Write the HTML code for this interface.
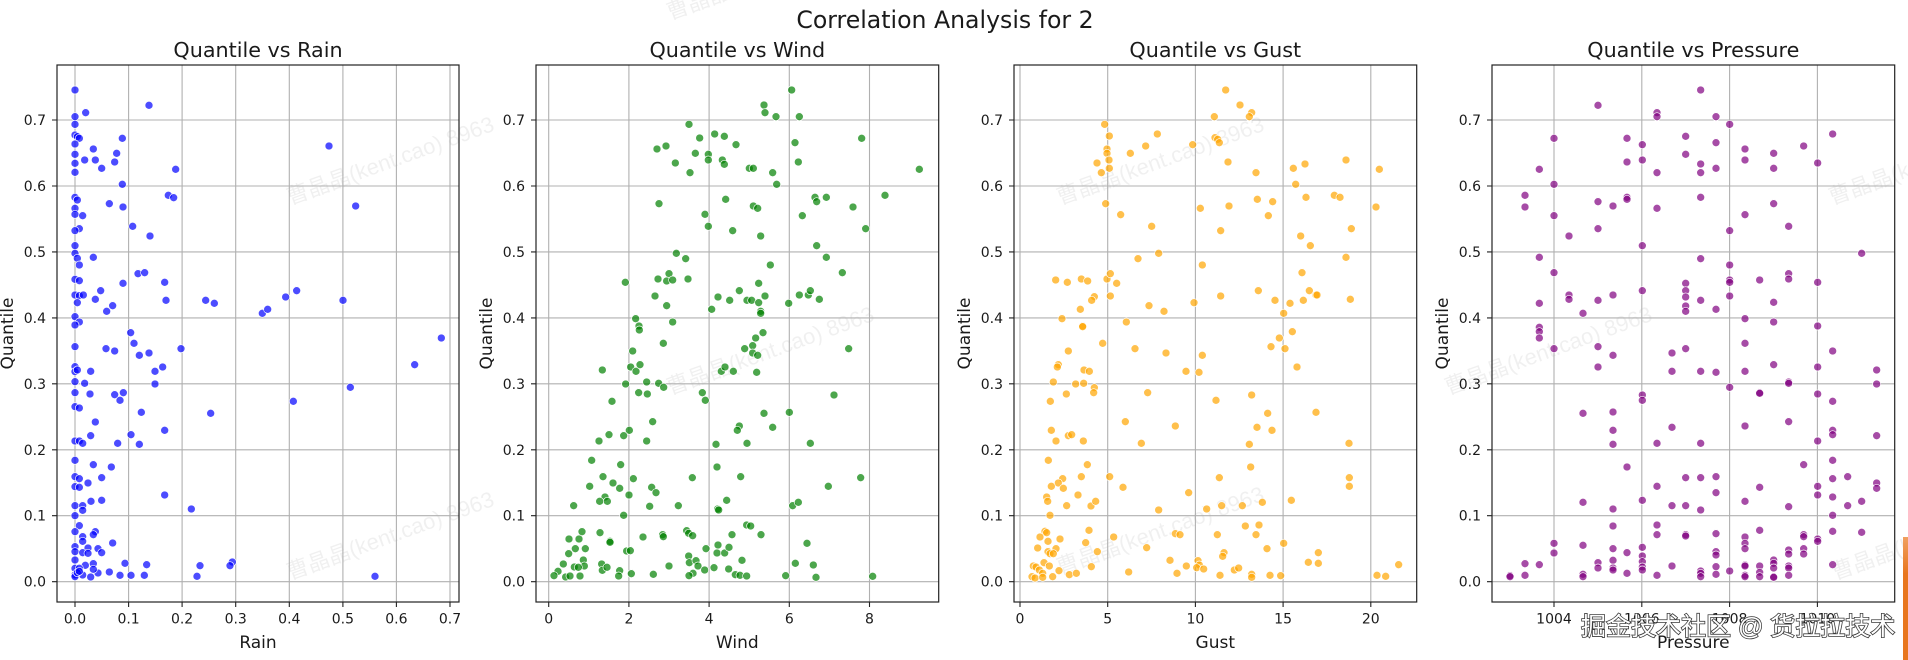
<!DOCTYPE html>
<html><head><meta charset="utf-8"><style>
html,body{margin:0;padding:0;background:#fff;}
svg{display:block;}
text{font-family:"DejaVu Sans","Liberation Sans",sans-serif;fill:#1a1a1a;}
.tk{font-size:14px;}
.ax{font-size:17px;}
.ti{font-size:20.7px;}
.wm{font-family:"Liberation Sans","Noto Sans CJK SC",sans-serif;font-size:22px;fill:#000;fill-opacity:0.06;}
</style></head><body>
<svg width="1908" height="660" viewBox="0 0 1908 660" xmlns="http://www.w3.org/2000/svg">
<rect width="1908" height="660" fill="#fff"/>

<!-- faint watermarks -->
<g class="wm">
<text class="wm" transform="translate(290,205) rotate(-20)">曹晶晶(kent.cao) 8963</text>
<text class="wm" transform="translate(290,580) rotate(-20)">曹晶晶(kent.cao) 8963</text>
<text class="wm" transform="translate(670,395) rotate(-20)">曹晶晶(kent.cao) 8963</text>
<text class="wm" transform="translate(1060,205) rotate(-20)">曹晶晶(kent.cao) 8963</text>
<text class="wm" transform="translate(1060,575) rotate(-20)">曹晶晶(kent.cao) 8963</text>
<text class="wm" transform="translate(1448,395) rotate(-20)">曹晶晶(kent.cao) 8963</text>
<text class="wm" transform="translate(1832,205) rotate(-20)">曹晶晶(kent.cao) 8963</text>
<text class="wm" transform="translate(1835,580) rotate(-20)">曹晶晶(kent.cao) 8963</text>
<text class="wm" transform="translate(670,20) rotate(-20)">曹晶晶(kent.cao) 8963</text>
</g>

<!-- suptitle -->
<text x="945" y="28" text-anchor="middle" style="font-size:23.6px">Correlation Analysis for 2</text>

<!-- grids -->
<g stroke="#b0b0b0" stroke-width="1.1" fill="none">
<!-- horizontal grids all panels -->
<path d="M57 581.7H459M57 515.7H459M57 449.8H459M57 383.8H459M57 317.9H459M57 251.9H459M57 186H459M57 120H459"/>
<path d="M536 581.7H938.7M536 515.7H938.7M536 449.8H938.7M536 383.8H938.7M536 317.9H938.7M536 251.9H938.7M536 186H938.7M536 120H938.7"/>
<path d="M1014 581.7H1416.7M1014 515.7H1416.7M1014 449.8H1416.7M1014 383.8H1416.7M1014 317.9H1416.7M1014 251.9H1416.7M1014 186H1416.7M1014 120H1416.7"/>
<path d="M1492 581.7H1894.7M1492 515.7H1894.7M1492 449.8H1894.7M1492 383.8H1894.7M1492 317.9H1894.7M1492 251.9H1894.7M1492 186H1894.7M1492 120H1894.7"/>
<!-- vertical grids -->
<path d="M75 65V602M128.6 65V602M182.1 65V602M235.7 65V602M289.3 65V602M342.9 65V602M396.4 65V602M450 65V602"/>
<path d="M548.7 65V602M628.9 65V602M709.1 65V602M789.3 65V602M869.5 65V602"/>
<path d="M1020 65V602M1107.7 65V602M1195.4 65V602M1283.1 65V602M1370.8 65V602"/>
<path d="M1554 65V602M1641.8 65V602M1729.6 65V602M1817.4 65V602"/>
</g>

<!-- Panel 1: Rain (blue) -->
<g fill="#0000ff" fill-opacity="0.7" stroke="#fff" stroke-width="2">
<g transform="translate(0,0) scale(0.333333)">
<circle cx="225" cy="270" r="12"/><circle cx="447" cy="316" r="12"/><circle cx="257" cy="338" r="12"/><circle cx="225" cy="350" r="12"/><circle cx="225" cy="373" r="12"/><circle cx="225" cy="405" r="12"/><circle cx="232" cy="410" r="12"/><circle cx="238" cy="415" r="12"/><circle cx="225" cy="432" r="12"/><circle cx="367" cy="415" r="12"/><circle cx="987" cy="438" r="12"/><circle cx="280" cy="447" r="12"/><circle cx="225" cy="463" r="12"/><circle cx="350" cy="460" r="12"/><circle cx="254" cy="480" r="12"/><circle cx="286" cy="480" r="12"/><circle cx="344" cy="486" r="12"/><circle cx="305" cy="505" r="12"/><circle cx="225" cy="490" r="12"/><circle cx="225" cy="517" r="12"/><circle cx="527" cy="508" r="12"/><circle cx="367" cy="553" r="12"/><circle cx="225" cy="592" r="12"/><circle cx="232" cy="600" r="12"/><circle cx="505" cy="586" r="12"/><circle cx="521" cy="593" r="12"/><circle cx="328" cy="611" r="12"/><circle cx="369" cy="621" r="12"/><circle cx="1067" cy="618" r="12"/><circle cx="225" cy="625" r="12"/><circle cx="225" cy="643" r="12"/><circle cx="248" cy="647" r="12"/><circle cx="238" cy="686" r="12"/><circle cx="225" cy="692" r="12"/><circle cx="398" cy="679" r="12"/><circle cx="450" cy="708" r="12"/><circle cx="225" cy="737" r="12"/><circle cx="225" cy="760" r="12"/><circle cx="232" cy="775" r="12"/><circle cx="238" cy="795" r="12"/><circle cx="280" cy="772" r="12"/><circle cx="414" cy="821" r="12"/><circle cx="434" cy="818" r="12"/><circle cx="225" cy="838" r="12"/><circle cx="238" cy="842" r="12"/><circle cx="494" cy="847" r="12"/><circle cx="369" cy="850" r="12"/><circle cx="225" cy="885" r="12"/><circle cx="238" cy="887" r="12"/><circle cx="250" cy="885" r="12"/><circle cx="286" cy="898" r="12"/><circle cx="302" cy="872" r="12"/><circle cx="498" cy="901" r="12"/><circle cx="617" cy="901" r="12"/><circle cx="643" cy="910" r="12"/><circle cx="857" cy="891" r="12"/><circle cx="890" cy="872" r="12"/><circle cx="1029" cy="901" r="12"/><circle cx="338" cy="917" r="12"/><circle cx="320" cy="934" r="12"/><circle cx="787" cy="940" r="12"/><circle cx="803" cy="928" r="12"/><circle cx="232" cy="908" r="12"/><circle cx="225" cy="950" r="12"/><circle cx="238" cy="966" r="12"/><circle cx="225" cy="975" r="12"/>
</g>
<g transform="translate(0,330) scale(0.333333)">
<circle cx="225" cy="50" r="12"/><circle cx="318" cy="56" r="12"/><circle cx="344" cy="63" r="12"/><circle cx="392" cy="8" r="12"/><circle cx="402" cy="40" r="12"/><circle cx="418" cy="76" r="12"/><circle cx="447" cy="69" r="12"/><circle cx="543" cy="56" r="12"/><circle cx="1324" cy="24" r="12"/><circle cx="1244" cy="104" r="12"/><circle cx="225" cy="110" r="12"/><circle cx="225" cy="125" r="12"/><circle cx="232" cy="120" r="12"/><circle cx="272" cy="124" r="12"/><circle cx="465" cy="124" r="12"/><circle cx="488" cy="111" r="12"/><circle cx="225" cy="155" r="12"/><circle cx="254" cy="160" r="12"/><circle cx="465" cy="162" r="12"/><circle cx="225" cy="188" r="12"/><circle cx="270" cy="192" r="12"/><circle cx="344" cy="194" r="12"/><circle cx="370" cy="188" r="12"/><circle cx="360" cy="211" r="12"/><circle cx="1051" cy="172" r="12"/><circle cx="880" cy="214" r="12"/><circle cx="424" cy="247" r="12"/><circle cx="632" cy="250" r="12"/><circle cx="225" cy="230" r="12"/><circle cx="238" cy="234" r="12"/><circle cx="286" cy="276" r="12"/><circle cx="272" cy="317" r="12"/><circle cx="494" cy="301" r="12"/><circle cx="393" cy="314" r="12"/><circle cx="225" cy="333" r="12"/><circle cx="238" cy="333" r="12"/><circle cx="248" cy="340" r="12"/><circle cx="353" cy="340" r="12"/><circle cx="418" cy="343" r="12"/><circle cx="225" cy="391" r="12"/><circle cx="280" cy="404" r="12"/><circle cx="334" cy="411" r="12"/><circle cx="225" cy="440" r="12"/><circle cx="238" cy="446" r="12"/><circle cx="264" cy="459" r="12"/><circle cx="305" cy="443" r="12"/><circle cx="225" cy="470" r="12"/><circle cx="238" cy="472" r="12"/><circle cx="494" cy="495" r="12"/><circle cx="273" cy="514" r="12"/><circle cx="305" cy="511" r="12"/><circle cx="225" cy="527" r="12"/><circle cx="248" cy="527" r="12"/><circle cx="248" cy="541" r="12"/><circle cx="574" cy="537" r="12"/><circle cx="225" cy="557" r="12"/><circle cx="238" cy="587" r="12"/><circle cx="225" cy="605" r="12"/><circle cx="286" cy="605" r="12"/><circle cx="280" cy="614" r="12"/><circle cx="248" cy="620" r="12"/><circle cx="248" cy="634" r="12"/><circle cx="338" cy="639" r="12"/><circle cx="225" cy="650" r="12"/><circle cx="264" cy="654" r="12"/><circle cx="294" cy="656" r="12"/><circle cx="305" cy="668" r="12"/><circle cx="225" cy="665" r="12"/><circle cx="248" cy="668" r="12"/><circle cx="264" cy="670" r="12"/><circle cx="225" cy="690" r="12"/><circle cx="256" cy="706" r="12"/><circle cx="280" cy="701" r="12"/><circle cx="294" cy="729" r="12"/><circle cx="328" cy="726" r="12"/><circle cx="280" cy="718" r="12"/><circle cx="375" cy="700" r="12"/><circle cx="440" cy="704" r="12"/><circle cx="600" cy="707" r="12"/><circle cx="697" cy="696" r="12"/><circle cx="690" cy="707" r="12"/><circle cx="225" cy="715" r="12"/><circle cx="238" cy="715" r="12"/><circle cx="225" cy="735" r="12"/><circle cx="248" cy="735" r="12"/><circle cx="272" cy="741" r="12"/><circle cx="360" cy="736" r="12"/><circle cx="393" cy="736" r="12"/><circle cx="433" cy="736" r="12"/><circle cx="591" cy="739" r="12"/><circle cx="1125" cy="739" r="12"/><circle cx="225" cy="740" r="12"/><circle cx="232" cy="728" r="12"/><circle cx="238" cy="724" r="12"/>
</g>
</g>

<!-- Panel 2: Wind (green) -->
<g fill="#008000" fill-opacity="0.7" stroke="#fff" stroke-width="2">
<g transform="translate(470,0) scale(0.333333)">
<circle cx="965" cy="270" r="12"/><circle cx="882" cy="315" r="12"/><circle cx="885" cy="338" r="12"/><circle cx="918" cy="350" r="12"/><circle cx="988" cy="350" r="12"/><circle cx="657" cy="373" r="12"/><circle cx="689" cy="414" r="12"/><circle cx="734" cy="402" r="12"/><circle cx="763" cy="409" r="12"/><circle cx="1175" cy="415" r="12"/><circle cx="588" cy="438" r="12"/><circle cx="561" cy="447" r="12"/><circle cx="798" cy="434" r="12"/><circle cx="975" cy="428" r="12"/><circle cx="676" cy="460" r="12"/><circle cx="715" cy="463" r="12"/><circle cx="715" cy="480" r="12"/><circle cx="757" cy="480" r="12"/><circle cx="763" cy="493" r="12"/><circle cx="616" cy="489" r="12"/><circle cx="660" cy="518" r="12"/><circle cx="838" cy="505" r="12"/><circle cx="850" cy="505" r="12"/><circle cx="908" cy="518" r="12"/><circle cx="985" cy="486" r="12"/><circle cx="1348" cy="508" r="12"/><circle cx="920" cy="553" r="12"/><circle cx="567" cy="611" r="12"/><circle cx="767" cy="598" r="12"/><circle cx="850" cy="618" r="12"/><circle cx="863" cy="625" r="12"/><circle cx="1035" cy="592" r="12"/><circle cx="1040" cy="605" r="12"/><circle cx="1069" cy="592" r="12"/><circle cx="1149" cy="621" r="12"/><circle cx="1245" cy="586" r="12"/><circle cx="997" cy="647" r="12"/><circle cx="705" cy="643" r="12"/><circle cx="715" cy="679" r="12"/><circle cx="788" cy="692" r="12"/><circle cx="872" cy="708" r="12"/><circle cx="1187" cy="686" r="12"/><circle cx="619" cy="760" r="12"/><circle cx="647" cy="776" r="12"/><circle cx="1040" cy="737" r="12"/><circle cx="1069" cy="772" r="12"/><circle cx="901" cy="795" r="12"/><circle cx="1117" cy="818" r="12"/><circle cx="466" cy="847" r="12"/><circle cx="564" cy="837" r="12"/><circle cx="597" cy="821" r="12"/><circle cx="590" cy="843" r="12"/><circle cx="608" cy="840" r="12"/><circle cx="654" cy="837" r="12"/><circle cx="866" cy="850" r="12"/><circle cx="555" cy="888" r="12"/><circle cx="744" cy="891" r="12"/><circle cx="779" cy="901" r="12"/><circle cx="808" cy="872" r="12"/><circle cx="831" cy="901" r="12"/><circle cx="845" cy="901" r="12"/><circle cx="866" cy="908" r="12"/><circle cx="885" cy="888" r="12"/><circle cx="956" cy="910" r="12"/><circle cx="988" cy="885" r="12"/><circle cx="1015" cy="885" r="12"/><circle cx="1021" cy="872" r="12"/><circle cx="1048" cy="898" r="12"/><circle cx="590" cy="917" r="12"/><circle cx="725" cy="928" r="12"/><circle cx="872" cy="934" r="12"/><circle cx="872" cy="940" r="12"/><circle cx="497" cy="956" r="12"/><circle cx="507" cy="978" r="12"/><circle cx="608" cy="966" r="12"/>
</g>
<g transform="translate(470,330) scale(0.333333)">
<circle cx="488" cy="63" r="12"/><circle cx="508" cy="0" r="12"/><circle cx="580" cy="40" r="12"/><circle cx="879" cy="8" r="12"/><circle cx="857" cy="24" r="12"/><circle cx="848" cy="47" r="12"/><circle cx="824" cy="56" r="12"/><circle cx="848" cy="69" r="12"/><circle cx="863" cy="76" r="12"/><circle cx="1136" cy="56" r="12"/><circle cx="397" cy="120" r="12"/><circle cx="482" cy="111" r="12"/><circle cx="498" cy="124" r="12"/><circle cx="510" cy="104" r="12"/><circle cx="754" cy="124" r="12"/><circle cx="765" cy="111" r="12"/><circle cx="790" cy="124" r="12"/><circle cx="860" cy="127" r="12"/><circle cx="467" cy="162" r="12"/><circle cx="530" cy="156" r="12"/><circle cx="566" cy="160" r="12"/><circle cx="581" cy="172" r="12"/><circle cx="506" cy="188" r="12"/><circle cx="532" cy="192" r="12"/><circle cx="697" cy="188" r="12"/><circle cx="706" cy="211" r="12"/><circle cx="426" cy="214" r="12"/><circle cx="1092" cy="195" r="12"/><circle cx="882" cy="250" r="12"/><circle cx="958" cy="247" r="12"/><circle cx="548" cy="275" r="12"/><circle cx="908" cy="292" r="12"/><circle cx="808" cy="288" r="12"/><circle cx="802" cy="301" r="12"/><circle cx="478" cy="301" r="12"/><circle cx="461" cy="317" r="12"/><circle cx="417" cy="314" r="12"/><circle cx="387" cy="333" r="12"/><circle cx="530" cy="333" r="12"/><circle cx="738" cy="343" r="12"/><circle cx="831" cy="340" r="12"/><circle cx="1021" cy="340" r="12"/><circle cx="365" cy="391" r="12"/><circle cx="452" cy="404" r="12"/><circle cx="741" cy="411" r="12"/><circle cx="399" cy="440" r="12"/><circle cx="429" cy="459" r="12"/><circle cx="490" cy="446" r="12"/><circle cx="667" cy="443" r="12"/><circle cx="812" cy="440" r="12"/><circle cx="1172" cy="443" r="12"/><circle cx="359" cy="469" r="12"/><circle cx="449" cy="475" r="12"/><circle cx="545" cy="472" r="12"/><circle cx="558" cy="488" r="12"/><circle cx="477" cy="495" r="12"/><circle cx="1075" cy="469" r="12"/><circle cx="405" cy="501" r="12"/><circle cx="389" cy="514" r="12"/><circle cx="412" cy="514" r="12"/><circle cx="311" cy="527" r="12"/><circle cx="539" cy="529" r="12"/><circle cx="625" cy="527" r="12"/><circle cx="770" cy="511" r="12"/><circle cx="743" cy="537" r="12"/><circle cx="746" cy="540" r="12"/><circle cx="968" cy="527" r="12"/><circle cx="985" cy="517" r="12"/><circle cx="461" cy="556" r="12"/><circle cx="336" cy="605" r="12"/><circle cx="390" cy="608" r="12"/><circle cx="420" cy="634" r="12"/><circle cx="420" cy="637" r="12"/><circle cx="519" cy="621" r="12"/><circle cx="578" cy="614" r="12"/><circle cx="580" cy="620" r="12"/><circle cx="650" cy="602" r="12"/><circle cx="656" cy="610" r="12"/><circle cx="668" cy="617" r="12"/><circle cx="786" cy="614" r="12"/><circle cx="830" cy="585" r="12"/><circle cx="842" cy="588" r="12"/><circle cx="873" cy="614" r="12"/><circle cx="297" cy="627" r="12"/><circle cx="327" cy="627" r="12"/><circle cx="296" cy="671" r="12"/><circle cx="316" cy="656" r="12"/><circle cx="346" cy="656" r="12"/><circle cx="280" cy="702" r="12"/><circle cx="264" cy="724" r="12"/><circle cx="252" cy="737" r="12"/><circle cx="287" cy="741" r="12"/><circle cx="300" cy="738" r="12"/><circle cx="330" cy="738" r="12"/><circle cx="313" cy="711" r="12"/><circle cx="340" cy="690" r="12"/><circle cx="343" cy="708" r="12"/><circle cx="325" cy="712" r="12"/><circle cx="395" cy="702" r="12"/><circle cx="397" cy="721" r="12"/><circle cx="411" cy="712" r="12"/><circle cx="449" cy="722" r="12"/><circle cx="446" cy="738" r="12"/><circle cx="484" cy="731" r="12"/><circle cx="470" cy="663" r="12"/><circle cx="481" cy="662" r="12"/><circle cx="550" cy="733" r="12"/><circle cx="597" cy="708" r="12"/><circle cx="656" cy="678" r="12"/><circle cx="658" cy="698" r="12"/><circle cx="678" cy="692" r="12"/><circle cx="684" cy="708" r="12"/><circle cx="669" cy="730" r="12"/><circle cx="657" cy="737" r="12"/><circle cx="704" cy="720" r="12"/><circle cx="732" cy="713" r="12"/><circle cx="708" cy="656" r="12"/><circle cx="744" cy="645" r="12"/><circle cx="741" cy="669" r="12"/><circle cx="764" cy="669" r="12"/><circle cx="777" cy="652" r="12"/><circle cx="776" cy="717" r="12"/><circle cx="796" cy="734" r="12"/><circle cx="810" cy="736" r="12"/><circle cx="830" cy="738" r="12"/><circle cx="816" cy="691" r="12"/><circle cx="947" cy="737" r="12"/><circle cx="976" cy="700" r="12"/><circle cx="1011" cy="640" r="12"/><circle cx="1030" cy="705" r="12"/><circle cx="1038" cy="742" r="12"/><circle cx="1208" cy="739" r="12"/>
</g>
</g>

<!-- Panel 3: Gust (orange) -->
<g fill="#ffa500" fill-opacity="0.7" stroke="#fff" stroke-width="2">
<g transform="translate(950,0) scale(0.333333)">
<circle cx="827" cy="270" r="12"/><circle cx="870" cy="315" r="12"/><circle cx="905" cy="338" r="12"/><circle cx="898" cy="350" r="12"/><circle cx="793" cy="350" r="12"/><circle cx="464" cy="373" r="12"/><circle cx="478" cy="408" r="12"/><circle cx="622" cy="402" r="12"/><circle cx="795" cy="413" r="12"/><circle cx="803" cy="418" r="12"/><circle cx="808" cy="428" r="12"/><circle cx="587" cy="438" r="12"/><circle cx="728" cy="434" r="12"/><circle cx="471" cy="447" r="12"/><circle cx="471" cy="460" r="12"/><circle cx="541" cy="460" r="12"/><circle cx="477" cy="480" r="12"/><circle cx="441" cy="489" r="12"/><circle cx="478" cy="505" r="12"/><circle cx="454" cy="518" r="12"/><circle cx="834" cy="486" r="12"/><circle cx="918" cy="518" r="12"/><circle cx="1030" cy="505" r="12"/><circle cx="1065" cy="492" r="12"/><circle cx="1037" cy="553" r="12"/><circle cx="1188" cy="480" r="12"/><circle cx="1288" cy="508" r="12"/><circle cx="1153" cy="586" r="12"/><circle cx="1170" cy="592" r="12"/><circle cx="1068" cy="592" r="12"/><circle cx="922" cy="598" r="12"/><circle cx="968" cy="605" r="12"/><circle cx="837" cy="618" r="12"/><circle cx="751" cy="625" r="12"/><circle cx="467" cy="611" r="12"/><circle cx="512" cy="644" r="12"/><circle cx="955" cy="647" r="12"/><circle cx="1278" cy="621" r="12"/><circle cx="605" cy="679" r="12"/><circle cx="812" cy="692" r="12"/><circle cx="1052" cy="708" r="12"/><circle cx="1204" cy="686" r="12"/><circle cx="1081" cy="737" r="12"/><circle cx="626" cy="760" r="12"/><circle cx="564" cy="776" r="12"/><circle cx="1188" cy="772" r="12"/><circle cx="757" cy="795" r="12"/><circle cx="1056" cy="818" r="12"/><circle cx="317" cy="840" r="12"/><circle cx="352" cy="847" r="12"/><circle cx="394" cy="837" r="12"/><circle cx="413" cy="843" r="12"/><circle cx="471" cy="837" r="12"/><circle cx="481" cy="821" r="12"/><circle cx="500" cy="850" r="12"/><circle cx="433" cy="890" r="12"/><circle cx="425" cy="901" r="12"/><circle cx="481" cy="888" r="12"/><circle cx="812" cy="888" r="12"/><circle cx="925" cy="872" r="12"/><circle cx="975" cy="901" r="12"/><circle cx="1020" cy="910" r="12"/><circle cx="1060" cy="901" r="12"/><circle cx="1078" cy="872" r="12"/><circle cx="1098" cy="885" r="12"/><circle cx="1101" cy="885" r="12"/><circle cx="1201" cy="898" r="12"/><circle cx="732" cy="908" r="12"/><circle cx="597" cy="917" r="12"/><circle cx="391" cy="928" r="12"/><circle cx="642" cy="934" r="12"/><circle cx="1001" cy="940" r="12"/><circle cx="336" cy="956" r="12"/><circle cx="529" cy="966" r="12"/><circle cx="398" cy="978" r="12"/>
</g>
<g transform="translate(950,330) scale(0.333333)">
<circle cx="398" cy="-10" r="12"/><circle cx="458" cy="40" r="12"/><circle cx="555" cy="56" r="12"/><circle cx="648" cy="69" r="12"/><circle cx="757" cy="76" r="12"/><circle cx="355" cy="63" r="12"/><circle cx="988" cy="24" r="12"/><circle cx="963" cy="50" r="12"/><circle cx="1005" cy="56" r="12"/><circle cx="1027" cy="5" r="12"/><circle cx="1041" cy="111" r="12"/><circle cx="325" cy="104" r="12"/><circle cx="322" cy="111" r="12"/><circle cx="402" cy="120" r="12"/><circle cx="418" cy="124" r="12"/><circle cx="708" cy="124" r="12"/><circle cx="747" cy="127" r="12"/><circle cx="310" cy="156" r="12"/><circle cx="377" cy="162" r="12"/><circle cx="401" cy="160" r="12"/><circle cx="433" cy="173" r="12"/><circle cx="431" cy="188" r="12"/><circle cx="593" cy="188" r="12"/><circle cx="349" cy="192" r="12"/><circle cx="905" cy="195" r="12"/><circle cx="798" cy="211" r="12"/><circle cx="301" cy="214" r="12"/><circle cx="1098" cy="247" r="12"/><circle cx="526" cy="275" r="12"/><circle cx="953" cy="250" r="12"/><circle cx="676" cy="288" r="12"/><circle cx="921" cy="292" r="12"/><circle cx="966" cy="301" r="12"/><circle cx="304" cy="301" r="12"/><circle cx="318" cy="333" r="12"/><circle cx="355" cy="317" r="12"/><circle cx="365" cy="314" r="12"/><circle cx="400" cy="333" r="12"/><circle cx="574" cy="340" r="12"/><circle cx="898" cy="343" r="12"/><circle cx="1197" cy="340" r="12"/><circle cx="295" cy="391" r="12"/><circle cx="412" cy="404" r="12"/><circle cx="902" cy="411" r="12"/><circle cx="394" cy="440" r="12"/><circle cx="338" cy="446" r="12"/><circle cx="325" cy="459" r="12"/><circle cx="340" cy="475" r="12"/><circle cx="304" cy="469" r="12"/><circle cx="479" cy="440" r="12"/><circle cx="519" cy="472" r="12"/><circle cx="808" cy="443" r="12"/><circle cx="1198" cy="443" r="12"/><circle cx="1198" cy="469" r="12"/><circle cx="716" cy="488" r="12"/><circle cx="384" cy="495" r="12"/><circle cx="290" cy="501" r="12"/><circle cx="293" cy="514" r="12"/><circle cx="350" cy="527" r="12"/><circle cx="423" cy="528" r="12"/><circle cx="437" cy="514" r="12"/><circle cx="626" cy="540" r="12"/><circle cx="770" cy="537" r="12"/><circle cx="815" cy="527" r="12"/><circle cx="877" cy="527" r="12"/><circle cx="937" cy="517" r="12"/><circle cx="1024" cy="511" r="12"/><circle cx="300" cy="556" r="12"/><circle cx="285" cy="604" r="12"/><circle cx="290" cy="608" r="12"/><circle cx="270" cy="621" r="12"/><circle cx="294" cy="634" r="12"/><circle cx="330" cy="627" r="12"/><circle cx="417" cy="601" r="12"/><circle cx="407" cy="638" r="12"/><circle cx="491" cy="621" r="12"/><circle cx="676" cy="611" r="12"/><circle cx="690" cy="614" r="12"/><circle cx="802" cy="614" r="12"/><circle cx="886" cy="588" r="12"/><circle cx="927" cy="585" r="12"/><circle cx="918" cy="614" r="12"/><circle cx="1001" cy="640" r="12"/><circle cx="263" cy="654" r="12"/><circle cx="318" cy="656" r="12"/><circle cx="442" cy="665" r="12"/><circle cx="590" cy="653" r="12"/><circle cx="294" cy="665" r="12"/><circle cx="300" cy="671" r="12"/><circle cx="310" cy="671" r="12"/><circle cx="822" cy="668" r="12"/><circle cx="818" cy="679" r="12"/><circle cx="951" cy="656" r="12"/><circle cx="1105" cy="668" r="12"/><circle cx="660" cy="691" r="12"/><circle cx="1075" cy="697" r="12"/><circle cx="1105" cy="700" r="12"/><circle cx="1346" cy="704" r="12"/><circle cx="250" cy="708" r="12"/><circle cx="258" cy="711" r="12"/><circle cx="282" cy="698" r="12"/><circle cx="298" cy="708" r="12"/><circle cx="268" cy="720" r="12"/><circle cx="278" cy="730" r="12"/><circle cx="327" cy="722" r="12"/><circle cx="246" cy="740" r="12"/><circle cx="255" cy="744" r="12"/><circle cx="278" cy="742" r="12"/><circle cx="308" cy="740" r="12"/><circle cx="358" cy="734" r="12"/><circle cx="379" cy="730" r="12"/><circle cx="424" cy="710" r="12"/><circle cx="536" cy="726" r="12"/><circle cx="709" cy="708" r="12"/><circle cx="681" cy="730" r="12"/><circle cx="744" cy="692" r="12"/><circle cx="748" cy="705" r="12"/><circle cx="740" cy="713" r="12"/><circle cx="761" cy="717" r="12"/><circle cx="810" cy="736" r="12"/><circle cx="853" cy="720" r="12"/><circle cx="866" cy="714" r="12"/><circle cx="905" cy="733" r="12"/><circle cx="905" cy="742" r="12"/><circle cx="960" cy="736" r="12"/><circle cx="992" cy="737" r="12"/><circle cx="1281" cy="736" r="12"/><circle cx="1307" cy="739" r="12"/>
</g>
</g>

<!-- Panel 4: Pressure (purple) -->
<g fill="#800080" fill-opacity="0.7" stroke="#fff" stroke-width="2">
<g transform="translate(1428,0) scale(0.333333)">
<circle cx="818" cy="270" r="12"/><circle cx="510" cy="316" r="12"/><circle cx="687" cy="338" r="12"/><circle cx="687" cy="350" r="12"/><circle cx="864" cy="350" r="12"/><circle cx="905" cy="373" r="12"/><circle cx="1214" cy="402" r="12"/><circle cx="378" cy="415" r="12"/><circle cx="597" cy="415" r="12"/><circle cx="773" cy="409" r="12"/><circle cx="864" cy="428" r="12"/><circle cx="643" cy="434" r="12"/><circle cx="1127" cy="438" r="12"/><circle cx="951" cy="447" r="12"/><circle cx="773" cy="463" r="12"/><circle cx="1037" cy="460" r="12"/><circle cx="643" cy="480" r="12"/><circle cx="951" cy="480" r="12"/><circle cx="597" cy="486" r="12"/><circle cx="818" cy="492" r="12"/><circle cx="1169" cy="489" r="12"/><circle cx="334" cy="508" r="12"/><circle cx="687" cy="518" r="12"/><circle cx="818" cy="518" r="12"/><circle cx="864" cy="505" r="12"/><circle cx="1037" cy="505" r="12"/><circle cx="378" cy="553" r="12"/><circle cx="291" cy="586" r="12"/><circle cx="291" cy="621" r="12"/><circle cx="510" cy="605" r="12"/><circle cx="555" cy="618" r="12"/><circle cx="597" cy="592" r="12"/><circle cx="597" cy="598" r="12"/><circle cx="818" cy="592" r="12"/><circle cx="687" cy="625" r="12"/><circle cx="1037" cy="611" r="12"/><circle cx="378" cy="647" r="12"/><circle cx="951" cy="644" r="12"/><circle cx="423" cy="708" r="12"/><circle cx="510" cy="686" r="12"/><circle cx="905" cy="692" r="12"/><circle cx="1082" cy="679" r="12"/><circle cx="643" cy="737" r="12"/><circle cx="334" cy="772" r="12"/><circle cx="818" cy="776" r="12"/><circle cx="905" cy="795" r="12"/><circle cx="378" cy="818" r="12"/><circle cx="1301" cy="760" r="12"/><circle cx="773" cy="850" r="12"/><circle cx="773" cy="872" r="12"/><circle cx="773" cy="891" r="12"/><circle cx="773" cy="918" r="12"/><circle cx="773" cy="934" r="12"/><circle cx="905" cy="840" r="12"/><circle cx="905" cy="847" r="12"/><circle cx="995" cy="840" r="12"/><circle cx="1082" cy="821" r="12"/><circle cx="1082" cy="837" r="12"/><circle cx="1169" cy="847" r="12"/><circle cx="423" cy="885" r="12"/><circle cx="423" cy="898" r="12"/><circle cx="510" cy="901" r="12"/><circle cx="555" cy="885" r="12"/><circle cx="643" cy="872" r="12"/><circle cx="818" cy="901" r="12"/><circle cx="905" cy="888" r="12"/><circle cx="1037" cy="907" r="12"/><circle cx="334" cy="910" r="12"/><circle cx="465" cy="940" r="12"/><circle cx="864" cy="928" r="12"/><circle cx="951" cy="956" r="12"/><circle cx="1037" cy="966" r="12"/><circle cx="1169" cy="978" r="12"/>
</g>
<g transform="translate(1428,330) scale(0.333333)">
<circle cx="334" cy="-8" r="12"/><circle cx="334" cy="5" r="12"/><circle cx="334" cy="24" r="12"/><circle cx="378" cy="56" r="12"/><circle cx="510" cy="50" r="12"/><circle cx="555" cy="76" r="12"/><circle cx="510" cy="111" r="12"/><circle cx="732" cy="69" r="12"/><circle cx="773" cy="56" r="12"/><circle cx="732" cy="124" r="12"/><circle cx="818" cy="124" r="12"/><circle cx="864" cy="127" r="12"/><circle cx="951" cy="40" r="12"/><circle cx="951" cy="124" r="12"/><circle cx="1037" cy="104" r="12"/><circle cx="1082" cy="156" r="12"/><circle cx="1082" cy="160" r="12"/><circle cx="1214" cy="63" r="12"/><circle cx="1169" cy="111" r="12"/><circle cx="1346" cy="120" r="12"/><circle cx="1346" cy="162" r="12"/><circle cx="905" cy="172" r="12"/><circle cx="995" cy="188" r="12"/><circle cx="995" cy="190" r="12"/><circle cx="643" cy="195" r="12"/><circle cx="643" cy="211" r="12"/><circle cx="1169" cy="192" r="12"/><circle cx="1214" cy="214" r="12"/><circle cx="465" cy="250" r="12"/><circle cx="555" cy="246" r="12"/><circle cx="555" cy="301" r="12"/><circle cx="555" cy="343" r="12"/><circle cx="732" cy="292" r="12"/><circle cx="951" cy="288" r="12"/><circle cx="1082" cy="275" r="12"/><circle cx="1214" cy="301" r="12"/><circle cx="1214" cy="314" r="12"/><circle cx="1169" cy="333" r="12"/><circle cx="1346" cy="317" r="12"/><circle cx="687" cy="340" r="12"/><circle cx="818" cy="340" r="12"/><circle cx="597" cy="411" r="12"/><circle cx="1127" cy="404" r="12"/><circle cx="1214" cy="391" r="12"/><circle cx="465" cy="517" r="12"/><circle cx="555" cy="537" r="12"/><circle cx="643" cy="511" r="12"/><circle cx="687" cy="469" r="12"/><circle cx="732" cy="527" r="12"/><circle cx="773" cy="443" r="12"/><circle cx="773" cy="527" r="12"/><circle cx="818" cy="443" r="12"/><circle cx="818" cy="540" r="12"/><circle cx="864" cy="440" r="12"/><circle cx="864" cy="488" r="12"/><circle cx="951" cy="514" r="12"/><circle cx="995" cy="472" r="12"/><circle cx="1082" cy="530" r="12"/><circle cx="1169" cy="469" r="12"/><circle cx="1169" cy="495" r="12"/><circle cx="1214" cy="446" r="12"/><circle cx="1214" cy="501" r="12"/><circle cx="1214" cy="556" r="12"/><circle cx="1259" cy="440" r="12"/><circle cx="1259" cy="527" r="12"/><circle cx="1301" cy="514" r="12"/><circle cx="1346" cy="459" r="12"/><circle cx="1346" cy="475" r="12"/><circle cx="555" cy="588" r="12"/><circle cx="687" cy="585" r="12"/><circle cx="687" cy="614" r="12"/><circle cx="773" cy="614" r="12"/><circle cx="773" cy="618" r="12"/><circle cx="864" cy="611" r="12"/><circle cx="951" cy="621" r="12"/><circle cx="951" cy="640" r="12"/><circle cx="951" cy="656" r="12"/><circle cx="995" cy="601" r="12"/><circle cx="1127" cy="614" r="12"/><circle cx="1127" cy="620" r="12"/><circle cx="1169" cy="627" r="12"/><circle cx="1169" cy="634" r="12"/><circle cx="1214" cy="604" r="12"/><circle cx="1301" cy="607" r="12"/><circle cx="378" cy="640" r="12"/><circle cx="378" cy="669" r="12"/><circle cx="465" cy="646" r="12"/><circle cx="246" cy="737" r="12"/><circle cx="246" cy="740" r="12"/><circle cx="291" cy="701" r="12"/><circle cx="291" cy="736" r="12"/><circle cx="334" cy="704" r="12"/><circle cx="465" cy="733" r="12"/><circle cx="465" cy="740" r="12"/><circle cx="510" cy="698" r="12"/><circle cx="510" cy="714" r="12"/><circle cx="555" cy="656" r="12"/><circle cx="555" cy="691" r="12"/><circle cx="555" cy="714" r="12"/><circle cx="555" cy="720" r="12"/><circle cx="597" cy="668" r="12"/><circle cx="597" cy="730" r="12"/><circle cx="643" cy="652" r="12"/><circle cx="643" cy="678" r="12"/><circle cx="643" cy="695" r="12"/><circle cx="643" cy="711" r="12"/><circle cx="643" cy="720" r="12"/><circle cx="687" cy="736" r="12"/><circle cx="732" cy="708" r="12"/><circle cx="818" cy="723" r="12"/><circle cx="818" cy="730" r="12"/><circle cx="818" cy="740" r="12"/><circle cx="864" cy="665" r="12"/><circle cx="864" cy="675" r="12"/><circle cx="864" cy="710" r="12"/><circle cx="864" cy="733" r="12"/><circle cx="905" cy="723" r="12"/><circle cx="951" cy="705" r="12"/><circle cx="951" cy="708" r="12"/><circle cx="951" cy="736" r="12"/><circle cx="951" cy="740" r="12"/><circle cx="995" cy="708" r="12"/><circle cx="995" cy="727" r="12"/><circle cx="995" cy="740" r="12"/><circle cx="1037" cy="690" r="12"/><circle cx="1037" cy="700" r="12"/><circle cx="1037" cy="714" r="12"/><circle cx="1037" cy="740" r="12"/><circle cx="1037" cy="742" r="12"/><circle cx="1082" cy="660" r="12"/><circle cx="1082" cy="672" r="12"/><circle cx="1082" cy="708" r="12"/><circle cx="1082" cy="714" r="12"/><circle cx="1082" cy="736" r="12"/><circle cx="1127" cy="656" r="12"/><circle cx="1127" cy="672" r="12"/><circle cx="1214" cy="704" r="12"/>
</g>
</g>

<!-- axes frames -->
<g fill="none" stroke="#222" stroke-width="1.2">
<rect x="57" y="65" width="402" height="537"/>
<rect x="536" y="65" width="402.7" height="537"/>
<rect x="1014" y="65" width="402.7" height="537"/>
<rect x="1492" y="65" width="402.7" height="537"/>
</g>

<!-- tick marks -->
<g stroke="#222" stroke-width="1.1">
<path d="M52 581.7H57M52 515.7H57M52 449.8H57M52 383.8H57M52 317.9H57M52 251.9H57M52 186H57M52 120H57"/>
<path d="M531 581.7H536M531 515.7H536M531 449.8H536M531 383.8H536M531 317.9H536M531 251.9H536M531 186H536M531 120H536"/>
<path d="M1009 581.7H1014M1009 515.7H1014M1009 449.8H1014M1009 383.8H1014M1009 317.9H1014M1009 251.9H1014M1009 186H1014M1009 120H1014"/>
<path d="M1487 581.7H1492M1487 515.7H1492M1487 449.8H1492M1487 383.8H1492M1487 317.9H1492M1487 251.9H1492M1487 186H1492M1487 120H1492"/>
<path d="M75 602V607M128.6 602V607M182.1 602V607M235.7 602V607M289.3 602V607M342.9 602V607M396.4 602V607M450 602V607"/>
<path d="M548.7 602V607M628.9 602V607M709.1 602V607M789.3 602V607M869.5 602V607"/>
<path d="M1020 602V607M1107.7 602V607M1195.4 602V607M1283.1 602V607M1370.8 602V607"/>
<path d="M1554 602V607M1641.8 602V607M1729.6 602V607M1817.4 602V607"/>
</g>

<!-- y tick labels -->
<g class="tk" text-anchor="end">
<text class="tk" x="46" y="586.7">0.0</text><text class="tk" x="46" y="520.7">0.1</text><text class="tk" x="46" y="454.8">0.2</text><text class="tk" x="46" y="388.8">0.3</text><text class="tk" x="46" y="322.9">0.4</text><text class="tk" x="46" y="256.9">0.5</text><text class="tk" x="46" y="191">0.6</text><text class="tk" x="46" y="125">0.7</text>
<text class="tk" x="525" y="586.7">0.0</text><text class="tk" x="525" y="520.7">0.1</text><text class="tk" x="525" y="454.8">0.2</text><text class="tk" x="525" y="388.8">0.3</text><text class="tk" x="525" y="322.9">0.4</text><text class="tk" x="525" y="256.9">0.5</text><text class="tk" x="525" y="191">0.6</text><text class="tk" x="525" y="125">0.7</text>
<text class="tk" x="1003" y="586.7">0.0</text><text class="tk" x="1003" y="520.7">0.1</text><text class="tk" x="1003" y="454.8">0.2</text><text class="tk" x="1003" y="388.8">0.3</text><text class="tk" x="1003" y="322.9">0.4</text><text class="tk" x="1003" y="256.9">0.5</text><text class="tk" x="1003" y="191">0.6</text><text class="tk" x="1003" y="125">0.7</text>
<text class="tk" x="1481" y="586.7">0.0</text><text class="tk" x="1481" y="520.7">0.1</text><text class="tk" x="1481" y="454.8">0.2</text><text class="tk" x="1481" y="388.8">0.3</text><text class="tk" x="1481" y="322.9">0.4</text><text class="tk" x="1481" y="256.9">0.5</text><text class="tk" x="1481" y="191">0.6</text><text class="tk" x="1481" y="125">0.7</text>
</g>

<!-- x tick labels -->
<g text-anchor="middle">
<text class="tk" x="75" y="623.5">0.0</text><text class="tk" x="128.6" y="623.5">0.1</text><text class="tk" x="182.1" y="623.5">0.2</text><text class="tk" x="235.7" y="623.5">0.3</text><text class="tk" x="289.3" y="623.5">0.4</text><text class="tk" x="342.9" y="623.5">0.5</text><text class="tk" x="396.4" y="623.5">0.6</text><text class="tk" x="450" y="623.5">0.7</text>
<text class="tk" x="548.7" y="623.5">0</text><text class="tk" x="628.9" y="623.5">2</text><text class="tk" x="709.1" y="623.5">4</text><text class="tk" x="789.3" y="623.5">6</text><text class="tk" x="869.5" y="623.5">8</text>
<text class="tk" x="1020" y="623.5">0</text><text class="tk" x="1107.7" y="623.5">5</text><text class="tk" x="1195.4" y="623.5">10</text><text class="tk" x="1283.1" y="623.5">15</text><text class="tk" x="1370.8" y="623.5">20</text>
<text class="tk" x="1554" y="623.5">1004</text><text class="tk" x="1641.8" y="623.5">1006</text><text class="tk" x="1729.6" y="623.5">1008</text><text class="tk" x="1817.4" y="623.5">1010</text>
</g>

<!-- axis labels -->
<g text-anchor="middle">
<text class="ax" x="258" y="648">Rain</text>
<text class="ax" x="737.3" y="648">Wind</text>
<text class="ax" x="1215.3" y="648">Gust</text>
<text class="ax" x="1693.3" y="648">Pressure</text>
<text class="ax" transform="translate(13,333.5) rotate(-90)">Quantile</text>
<text class="ax" transform="translate(492,333.5) rotate(-90)">Quantile</text>
<text class="ax" transform="translate(970,333.5) rotate(-90)">Quantile</text>
<text class="ax" transform="translate(1448,333.5) rotate(-90)">Quantile</text>
</g>

<!-- subplot titles -->
<g text-anchor="middle">
<text class="ti" x="258" y="57">Quantile vs Rain</text>
<text class="ti" x="737.3" y="57">Quantile vs Wind</text>
<text class="ti" x="1215.3" y="57">Quantile vs Gust</text>
<text class="ti" x="1693.3" y="57">Quantile vs Pressure</text>
</g>

<!-- bottom-right watermark -->
<text x="1581" y="635" style="font-family:'Liberation Sans','Noto Sans CJK SC',sans-serif;font-size:25px;fill:#fff;stroke:#3a3a3a;stroke-width:1.6px;paint-order:stroke;">掘金技术社区 @ 货拉拉技术</text>

<!-- orange strip at right edge -->
<defs><linearGradient id="og" x1="0" y1="0" x2="0" y2="1"><stop offset="0" stop-color="#f0a060"/><stop offset="0.3" stop-color="#e8761e"/><stop offset="1" stop-color="#e8761e"/></linearGradient></defs>
<rect x="1903" y="537" width="5" height="123" fill="url(#og)"/>
</svg>
</body></html>
